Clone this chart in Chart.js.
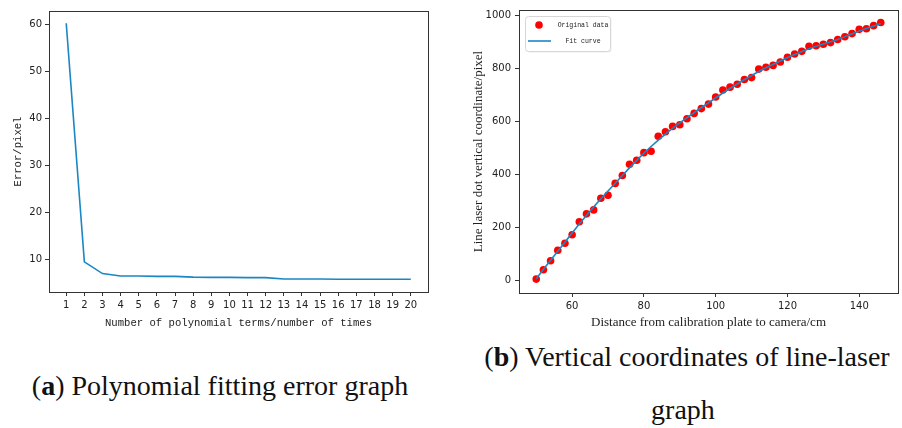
<!DOCTYPE html>
<html>
<head>
<meta charset="utf-8">
<script src="https://cdn.jsdelivr.net/npm/chart.js@4.4.0/dist/chart.umd.min.js"></script>
<style>
  body { margin: 0; background: #fff; width: 902px; height: 428px; overflow: hidden; position: relative; }
  canvas { position: absolute; top: 0; }
  #errChart { left: 0; }
  #laserChart { left: 450px; }
  .cap { position: absolute; font-family: "Liberation Serif", serif; font-size: 28px; line-height: 28px;
         color: #111; white-space: nowrap; transform: translateX(-50%); }
</style>
</head>
<body>
<canvas id="errChart" width="450" height="340"></canvas>
<canvas id="laserChart" width="452" height="340"></canvas>
<div class="cap" style="left:220px; top:372px;">(<b>a</b>) Polynomial fitting error graph</div>
<div class="cap" style="left:687px; top:343px;">(<b>b</b>) Vertical coordinates of line-laser</div>
<div class="cap" style="left:683px; top:396px;">graph</div>
<script>
// (a) fitting error vs number of polynomial terms
let terms = [1, 2, 3, 4, 5, 6, 7, 8, 9, 10, 11, 12, 13, 14, 15, 16, 17, 18, 19, 20];
let errorPx = [60.3, 9.5, 7.0, 6.5, 6.5, 6.4, 6.4, 6.25, 6.2, 6.2, 6.15, 6.15, 5.85, 5.85, 5.85, 5.8, 5.8, 5.8, 5.8, 5.8];
let errXTicks = terms;
let errYTicks = [10, 20, 30, 40, 50, 60];

// (b) line-laser dot vertical coordinate vs distance
let distance = [50, 52, 54, 56, 58, 60, 62, 64, 66, 68, 70, 72, 74, 76, 78, 80, 82, 84, 86, 88,
  90, 92, 94, 96, 98, 100, 102, 104, 106, 108, 110, 112, 114, 116, 118, 120, 122, 124, 126, 128,
  130, 132, 134, 136, 138, 140, 142, 144, 146];
let dotY = [4, 39, 73, 113, 139, 171, 220, 250, 265, 309, 320, 365, 395, 437, 452, 481, 486, 543, 560, 580,
  586, 609, 629, 647, 664, 691, 717, 728, 739, 757, 764, 796, 803, 810, 823, 841, 853, 863, 882, 884,
  890, 896, 908, 918, 930, 946, 948, 960, 972];
let fitX = [50, 54, 58, 62, 66, 70, 74, 78, 82, 86, 90, 94, 98, 102, 106, 110, 114, 118, 122, 126, 130, 134, 138, 142, 146];
let fitY = [5, 75, 143, 212, 276, 336, 395, 452, 504, 551, 593, 632, 669, 706, 740, 772, 801, 827, 851, 873, 891, 908, 929, 949, 968];
let laserXTicks = [60, 80, 100, 120, 140];
let laserYTicks = [0, 200, 400, 600, 800, 1000];

let blue = "#1a86c4";
let tickFont = { family: "DejaVu Sans", size: 10 };

// full box around the plot, like matplotlib spines
let framePlugin = {
  id: "frame",
  afterDraw(chart) {
    let a = chart.chartArea;
    let ctx = chart.ctx;
    ctx.save();
    ctx.strokeStyle = "#333";
    ctx.lineWidth = 1;
    ctx.strokeRect(Math.round(a.left) + 0.5, Math.round(a.top) + 0.5,
      Math.round(a.right - a.left), Math.round(a.bottom - a.top));
    ctx.restore();
  }
};

function roundRect(ctx, x, y, w, h, r) {
  ctx.beginPath();
  ctx.moveTo(x + r, y);
  ctx.arcTo(x + w, y, x + w, y + h, r);
  ctx.arcTo(x + w, y + h, x, y + h, r);
  ctx.arcTo(x, y + h, x, y, r);
  ctx.arcTo(x, y, x + w, y, r);
  ctx.closePath();
}

// legend box in the upper left corner of the plot
let boxLegend = {
  id: "boxLegend",
  afterDraw(chart) {
    let a = chart.chartArea;
    let ctx = chart.ctx;
    let x = a.left + 6, y = a.top + 6, w = 85, h = 35;
    ctx.save();
    ctx.fillStyle = "rgba(0,0,0,0.07)";
    roundRect(ctx, x + 1.5, y + 1.5, w, h, 3);
    ctx.fill();
    ctx.fillStyle = "#fff";
    ctx.strokeStyle = "#d6d6d6";
    ctx.lineWidth = 1;
    roundRect(ctx, x + 0.5, y + 0.5, w, h, 3);
    ctx.fill();
    ctx.stroke();
    chart.data.datasets.forEach((ds, i) => {
      let cy = y + 9 + i * 16;
      if (ds.showLine) {
        ctx.strokeStyle = ds.borderColor;
        ctx.lineWidth = 1.6;
        ctx.beginPath();
        ctx.moveTo(x + 3, cy);
        ctx.lineTo(x + 26, cy);
        ctx.stroke();
      } else {
        ctx.fillStyle = ds.backgroundColor;
        ctx.beginPath();
        ctx.arc(x + 14, cy, 3.8, 0, Math.PI * 2);
        ctx.fill();
      }
      ctx.fillStyle = "#222";
      ctx.font = "6.5px 'Liberation Mono'";
      ctx.textAlign = "center";
      ctx.textBaseline = "middle";
      ctx.fillText(ds.label, x + 58, cy);
    });
    ctx.restore();
  }
};

function axis(min, max, ticks, title, titleFont, titlePad, size, labelPad) {
  return {
    type: "linear",
    min: min,
    max: max,
    afterBuildTicks: (scale) => { scale.ticks = ticks.map(v => ({ value: v })); },
    afterFit: (scale) => {
      if (scale.isHorizontal()) scale.height = size; else scale.width = size;
    },
    border: { display: false },
    grid: { drawOnChartArea: false, drawTicks: true, tickLength: 4, color: "#333" },
    ticks: {
      font: tickFont, color: "#222", padding: labelPad, maxRotation: 0, autoSkip: false,
      callback: (v) => String(v)
    },
    title: { display: true, text: title, font: titleFont, color: "#222", padding: titlePad }
  };
}

new Chart(document.getElementById("errChart"), {
  type: "line",
  data: {
    datasets: [{
      label: "Error",
      data: terms.map((t, i) => ({ x: t, y: errorPx[i] })),
      borderColor: blue,
      borderWidth: 1.6,
      pointRadius: 0,
      tension: 0
    }]
  },
  options: {
    responsive: false,
    animation: false,
    layout: { padding: { left: 0, top: 11, right: 22, bottom: 8 } },
    plugins: { legend: { display: false }, tooltip: { enabled: false } },
    scales: {
      x: axis(0.05, 20.95, errXTicks, "Number of polynomial terms/number of times",
        { family: "Liberation Mono", size: 10.6 }, { top: 0, bottom: 2.6 }, 40, 3),
      y: axis(3.08, 62.9, errYTicks, "Error/pixel",
        { family: "Liberation Mono", size: 10.6 }, { top: 11.6, bottom: 0 }, 49, 3)
    }
  },
  plugins: [framePlugin]
});

new Chart(document.getElementById("laserChart"), {
  type: "scatter",
  data: {
    datasets: [
      {
        label: "Original data",
        data: distance.map((d, i) => ({ x: d, y: dotY[i] })),
        backgroundColor: "#ff0000",
        borderWidth: 0,
        pointRadius: 3.8,
        order: 2
      },
      {
        label: "Fit curve",
        data: fitX.map((d, i) => ({ x: d, y: fitY[i] })),
        showLine: true,
        borderColor: blue,
        borderWidth: 1.6,
        pointRadius: 0,
        cubicInterpolationMode: "monotone",
        order: 1
      }
    ]
  },
  options: {
    responsive: false,
    animation: false,
    layout: { padding: { left: 0, top: 10, right: 3, bottom: 7 } },
    plugins: { legend: { display: false }, tooltip: { enabled: false } },
    scales: {
      x: axis(45.2, 150.8, laserXTicks, "Distance from calibration plate to camera/cm",
        { family: "Liberation Serif", size: 13 }, { top: 0, bottom: 2.2 }, 40, 3),
      y: axis(-48.5, 1019, laserYTicks, "Line laser dot vertical coordinate/pixel",
        { family: "Liberation Serif", size: 13 }, { top: 21, bottom: 0 }, 69, 4)
    }
  },
  plugins: [framePlugin, boxLegend]
});
</script>
</body>
</html>
